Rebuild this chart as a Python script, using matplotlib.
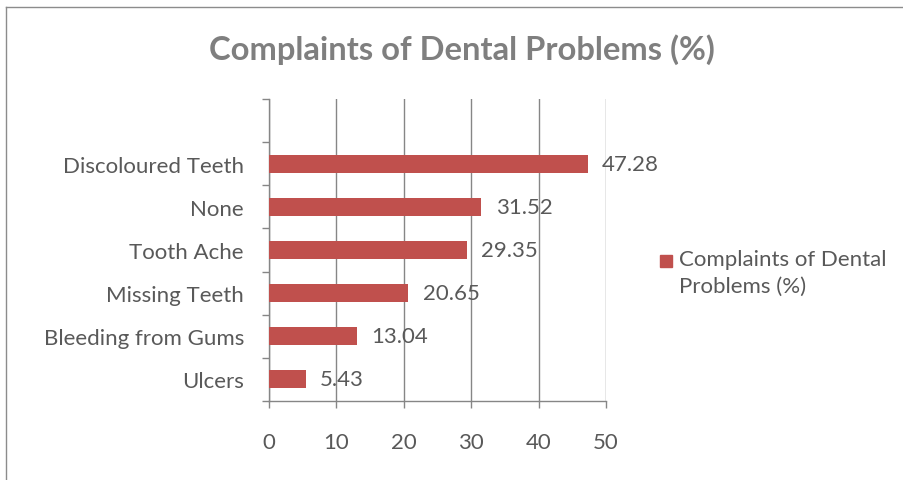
import matplotlib
matplotlib.use("Agg")
import matplotlib.pyplot as plt
import numpy as np

categories = ["Ulcers", "Bleeding from Gums", "Missing Teeth", "Tooth Ache", "None", "Discoloured Teeth"]
values = [5.43, 13.04, 20.65, 29.35, 31.52, 47.28]
xticks = [0, 10, 20, 30, 40, 50]
series_name = "Complaints of Dental\nProblems (%)"
title = "Complaints of Dental Problems (%)"

plt.rcParams['font.family'] = ['Lato', 'DejaVu Sans']
W, H = 904, 481
fig = plt.figure(figsize=(W/100, H/100), dpi=100)
ax = fig.add_axes([269/W, 1-402/H, (606-269)/W, (402-100)/H])

grey = '#868686'
txt = '#595959'
bar_color = '#C0504D'
fs = 16

y = np.arange(len(categories))
ax.barh(y, values, height=0.42, color=bar_color, zorder=3)
ax.set_xlim(0, 50)
ax.set_ylim(-0.5, len(categories) + 0.5)

for yi, v in zip(y, values):
    ax.annotate(f"{v:.2f}", (v, yi), xytext=(10.5, 0), textcoords='offset points',
                va='center', ha='left', fontsize=fs, color=txt, zorder=4)

ax.set_xticks(xticks)
ax.set_xticklabels([str(t) for t in xticks], fontsize=fs, color=txt)
ax.set_yticks(y)
ax.set_yticklabels(categories, fontsize=fs, color=txt)
ax.tick_params(axis='y', which='major', length=0, pad=18)
ax.set_yticks(np.arange(-0.5, len(categories) + 1, 1), minor=True)
ax.tick_params(axis='y', which='minor', length=5, color=grey, width=1)
ax.tick_params(axis='x', length=5, color=grey, width=1, pad=17)

ax.grid(axis='x', color=grey, linewidth=1, zorder=0)
for s in ['top', 'right']:
    ax.spines[s].set_visible(False)
for s in ['left', 'bottom']:
    ax.spines[s].set_color(grey)
    ax.spines[s].set_linewidth(1)

fig.text(462/W, 1-50/H, title, ha='center', va='center', fontsize=23.6,
         fontweight='bold', color='#7f7f7f')

# legend
fig.add_artist(plt.Rectangle((660/W, 1-268/H), 12/W, 12/H, color=bar_color,
                             transform=fig.transFigure))
fig.text(679/W, 1-250/H, series_name, ha='left', va='top', fontsize=fs,
         color=txt, linespacing=1.45)

# chart border (top and left visible)
fig.add_artist(plt.Line2D([6/W, 1], [1-8/H, 1-8/H], color='#8c8c8c', linewidth=1, transform=fig.transFigure))
fig.add_artist(plt.Line2D([6/W, 6/W], [0, 1-8/H], color='#8c8c8c', linewidth=1, transform=fig.transFigure))

fig.savefig("out.png", dpi=100, facecolor='white')
